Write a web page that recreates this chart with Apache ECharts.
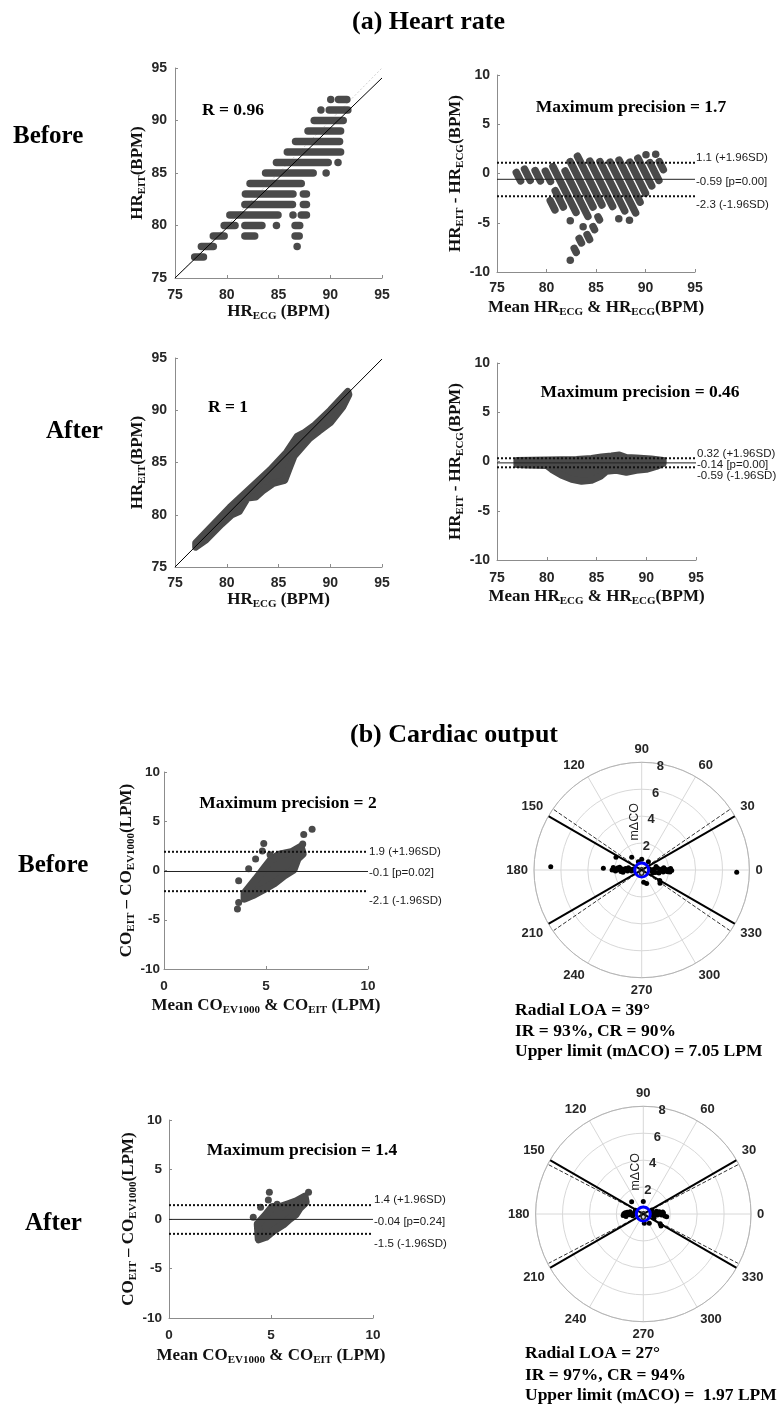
<!DOCTYPE html>
<html>
<head>
<meta charset="utf-8">
<title>Heart rate and cardiac output agreement</title>
<script src="https://cdn.jsdelivr.net/npm/echarts@6/dist/echarts.min.js"></script>
<style>
  html, body { margin: 0; padding: 0; background: #ffffff; }
  #chart { width: 780px; height: 1405px; }
</style>
</head>
<body>
<div id="chart"></div>
<script>
// ---------------------------------------------------------------------------
// Data
// ---------------------------------------------------------------------------

// Heart rate before: HR_EIT is integer-valued, so readings form horizontal runs.
// Each entry: [HR_EIT, HR_ECG first, HR_ECG last]
const hrBeforeRuns = [
  [92, 90.05, 90.05], [92, 90.8, 91.6],
  [91, 89.1, 89.1], [91, 89.9, 91.7],
  [90, 88.45, 91.25],
  [89, 87.85, 91.0],
  [88, 86.65, 90.9],
  [87, 85.85, 91.0],
  [86, 84.8, 89.8], [86, 90.75, 90.75],
  [85, 83.75, 88.35], [85, 89.6, 89.6],
  [84, 82.25, 87.2],
  [83, 81.8, 86.4], [83, 87.4, 87.7],
  [82, 81.75, 86.35], [82, 87.4, 87.7],
  [81, 80.3, 84.95], [81, 86.4, 86.4], [81, 87.2, 87.7],
  [80, 79.75, 80.8], [80, 81.75, 83.4], [80, 84.8, 84.8], [80, 86.6, 87.05],
  [79, 78.7, 79.75], [79, 81.75, 82.7], [79, 86.6, 87.0],
  [78, 77.55, 78.7], [78, 86.8, 86.8],
  [77, 76.9, 77.75]
];
const hrBeforeFit = [[75, 75], [95, 94.05]];
const hrIdentity = [[75, 75], [95, 95]];

// Bland-Altman stripes before: [mean start, diff start, mean end, diff end]
const hrBeforeBA = [
  [91.03, 1.95, 91.03, 1.95], [91.4, 1.2, 91.8, 0.4],
  [90.05, 1.9, 90.05, 1.9], [90.45, 1.1, 91.35, -0.7],
  [89.23, 1.55, 90.63, -1.25],
  [88.43, 1.15, 90.0, -2.0],
  [87.33, 1.35, 89.45, -2.9],
  [86.43, 1.15, 89.0, -4.0],
  [85.4, 1.2, 87.9, -3.8], [88.38, -4.75, 88.38, -4.75],
  [84.38, 1.25, 86.68, -3.35], [87.3, -4.6, 87.3, -4.6],
  [83.13, 1.75, 85.6, -3.2],
  [82.4, 1.2, 84.7, -3.4], [85.2, -4.4, 85.35, -4.7],
  [81.88, 0.25, 84.18, -4.35], [84.7, -5.4, 84.85, -5.7],
  [80.65, 0.7, 82.98, -3.95], [83.7, -5.4, 83.7, -5.4], [84.1, -6.2, 84.35, -6.7],
  [79.88, 0.25, 80.4, -0.8], [80.88, -1.75, 81.7, -3.4], [82.4, -4.8, 82.4, -4.8], [83.3, -6.6, 83.53, -7.05],
  [78.85, 0.3, 79.38, -0.75], [80.38, -2.75, 80.85, -3.7], [82.8, -7.6, 83.0, -8.0],
  [77.78, 0.45, 78.35, -0.7], [82.4, -8.8, 82.4, -8.8],
  [76.95, 0.1, 77.38, -0.75]
];
const hrBeforeLimits = [1.1, -0.59, -2.3];
const hrBeforeLimitText = ['1.1 (+1.96SD)', '-0.59 [p=0.00]', '-2.3 (-1.96SD)'];

// Heart rate after: outline of the dense cloud of readings (HR_ECG, HR_EIT)
const hrAfterCloud = [
  [77.0, 77.3], [80.3, 80.7], [84.2, 84.3], [85.8, 86.0], [86.8, 87.5], [87.4, 87.8],
  [88.4, 88.5], [90.0, 90.0], [91.7, 91.8],
  [91.8, 91.5], [91.2, 90.3], [90.0, 88.8], [88.9, 88.0], [88.0, 87.3], [86.5, 85.6],
  [86.1, 84.6], [85.6, 83.3], [84.5, 83.0], [83.5, 82.3], [82.8, 81.7], [82.0, 81.6],
  [81.2, 80.3], [80.5, 80.0], [79.5, 79.1], [78.0, 77.6], [77.0, 76.9]
];
const hrAfterFit = [[75, 75], [95, 94.9]];

// Bland-Altman after: outline of the cloud (mean, difference)
const hrAfterBACloud = [
  [77.0, 0.1], [80.0, 0.15], [83.0, 0.2], [84.5, 0.3], [85.5, 0.45], [86.5, 0.55],
  [87.3, 0.65], [88.0, 0.4], [89.0, 0.35], [90.5, 0.25], [91.7, 0.1],
  [91.7, -0.2], [91.0, -0.5], [90.0, -0.8], [89.0, -0.9], [88.0, -1.1], [87.0, -0.9],
  [86.0, -1.0], [85.4, -1.5], [84.5, -1.9], [83.5, -2.0], [82.5, -1.8], [81.5, -1.4],
  [80.5, -0.8], [80.0, -0.4], [78.0, -0.35], [77.0, -0.3]
];
const hrAfterLimits = [0.32, -0.14, -0.59];
const hrAfterLimitText = ['0.32 (+1.96SD)', '-0.14 [p=0.00]', '-0.59 (-1.96SD)'];

// Cardiac output before: isolated readings and the outline of the dense cluster
const coBeforeDots = [
  [7.26, 4.2], [6.85, 3.66], [4.89, 2.75], [4.82, 1.97], [4.49, 1.16], [4.15, 0.19],
  [3.66, -1.03], [3.6, -3.9], [3.66, -3.26], [6.8, 2.7], [3.95, -2.8], [5.2, 1.6]
];
const coBeforeCloud = [
  [3.95, -2.3], [4.5, -0.9], [4.95, 0.3], [5.25, 1.1], [5.65, 1.6], [6.3, 1.9], [6.7, 2.4],
  [6.8, 1.7], [6.55, 1.2], [6.35, 0.1], [5.9, -0.5], [5.4, -1.3], [4.85, -1.95],
  [4.35, -2.5], [3.95, -2.85]
];
const coBeforeLimits = [1.9, -0.1, -2.1];
const coBeforeLimitText = ['1.9 (+1.96SD)', '-0.1 [p=0.02]', '-2.1 (-1.96SD)'];

// Cardiac output after
const coAfterDots = [[4.92, 2.69], [4.87, 1.92], [4.49, 1.18], [4.13, 0.17], [6.84, 2.69], [5.3, 1.5]];
const coAfterCloud = [
  [4.35, -0.5], [4.75, 0.4], [5.05, 1.2], [5.45, 1.2], [5.85, 1.5], [6.25, 1.8], [6.65, 2.25],
  [6.7, 1.7], [6.4, 1.1], [6.2, 0.45], [5.9, 0.0], [5.6, -0.55], [5.1, -1.2],
  [4.75, -1.8], [4.4, -2.05]
];
const coAfterLimits = [1.4, -0.04, -1.5];
const coAfterLimitText = ['1.4 (+1.96SD)', '-0.04 [p=0.24]', '-1.5 (-1.96SD)'];

// Polar plots: [mean change mΔCO, angle in degrees]
const polarBeforeDots = [
  [6.76, 178], [7.06, 358.6], [2.85, 177.5], [2.13, 153.7], [1.2, 128.3], [0.79, 90],
  [0.93, 279], [1.06, 290], [1.68, 324], [1.55, 330], [0.66, 112], [0.79, 51],
  [0.6, 172], [0.75, 186], [0.9, 178], [1.05, 184], [1.2, 175], [1.3, 181], [1.45, 177],
  [1.55, 184], [1.7, 179], [1.8, 175], [1.95, 182], [2.05, 178], [2.2, 180], [1.0, 170],
  [1.4, 187], [1.65, 173], [0.8, 178], [1.15, 180], [1.85, 180], [2.12, 175],
  [0.6, 8], [0.75, 354], [0.9, 3], [1.05, 350], [1.2, 6], [1.35, 358], [1.5, 3], [1.6, 355],
  [1.75, 2], [1.85, 357], [2.0, 1], [2.1, 356], [2.23, 359], [1.1, 14], [1.3, 350],
  [1.65, 6], [0.85, 345], [1.45, 0], [1.95, 356], [2.15, 3]
];
const polarAfterDots = [
  [1.26, 133.4], [0.92, 90], [1.59, 325.8], [0.82, 302.7], [0.7, 276], [1.45, 330],
  [0.6, 170], [0.75, 185], [0.9, 176], [1.05, 183], [1.2, 174], [1.3, 188], [1.45, 179],
  [1.5, 184], [1.0, 170], [0.8, 190], [1.15, 181], [1.35, 176], [0.65, 155],
  [0.6, 10], [0.75, 352], [0.9, 4], [1.05, 356], [1.2, 8], [1.35, 357], [1.5, 3],
  [1.6, 355], [1.75, 353], [1.0, 12], [1.25, 0], [1.45, 6], [0.85, 340], [0.7, 25]
];
const polarLimitAngle = 30;            // solid limit lines
const polarBeforeLoaAngle = 34.5;      // dashed lines
const polarAfterLoaAngle = 27.5;
const polarRadiusTicks = [0, 2, 4, 6, 8];
const polarBeforeText = ['Radial LOA = 39°', 'IR = 93%, CR = 90%', 'Upper limit (mΔCO) = 7.05 LPM'];
const polarAfterText = ['Radial LOA = 27°', 'IR = 97%, CR = 94%', 'Upper limit (mΔCO) =  1.97 LPM'];

// ---------------------------------------------------------------------------
// Styling helpers
// ---------------------------------------------------------------------------
const SERIF = '"Liberation Serif", "Times New Roman", serif';
const SANS = '"Liberation Sans", Arial, sans-serif';
const DOT = '#4a4a4a';
const AXIS = '#8c8c8c';
const LABEL = '#262626';

function richName(fs) {
  return {
    t: { fontFamily: SERIF, fontWeight: 'bold', fontSize: fs, color: '#111' },
    s: { fontFamily: SERIF, fontWeight: 'bold', fontSize: Math.round(fs * 0.66), color: '#111', padding: [9, 0, 0, 0] }
  };
}

function valueAxis(grid, min, max, step, o) {
  return {
    type: 'value', gridIndex: grid, min: min, max: max, interval: step,
    axisLine: { show: true, onZero: false, lineStyle: { color: AXIS, width: 1 } },
    axisTick: { show: true, inside: true, length: 3, lineStyle: { color: AXIS } },
    splitLine: { show: false },
    axisLabel: { margin: o.margin, fontFamily: SANS, fontWeight: 'bold', fontSize: o.fs, color: LABEL },
    name: o.name, nameLocation: 'middle', nameGap: o.gap,
    nameTextStyle: { rich: richName(o.nfs || 17) }
  };
}

// A run of overlapping round markers drawn as one capsule
function capsule(width) {
  return function (params, api) {
    const a = api.coord([api.value(0), api.value(1)]);
    const b = api.coord([api.value(2), api.value(3)]);
    if (Math.abs(a[0] - b[0]) < 0.01 && Math.abs(a[1] - b[1]) < 0.01) {
      return { type: 'circle', shape: { cx: a[0], cy: a[1], r: width / 2 }, style: { fill: DOT } };
    }
    return {
      type: 'line', shape: { x1: a[0], y1: a[1], x2: b[0], y2: b[1] },
      style: { stroke: DOT, lineWidth: width, lineCap: 'round' }
    };
  };
}

function runSeries(g, data) {
  return {
    type: 'custom', xAxisIndex: g, yAxisIndex: g, data: data,
    encode: { x: [0, 2], y: [1, 3] }, renderItem: capsule(7.5), z: 2, silent: true
  };
}

// Dense cloud of markers drawn as a filled outline with rounded border
function cloudSeries(g, pts, w) {
  return {
    type: 'custom', xAxisIndex: g, yAxisIndex: g, data: pts, encode: { x: 0, y: 1 },
    z: 2, silent: true,
    renderItem: function (params, api) {
      if (params.dataIndex !== 0) return null;
      return {
        type: 'polygon', shape: { points: pts.map(function (p) { return api.coord(p); }) },
        style: { fill: DOT, stroke: DOT, lineWidth: w, lineJoin: 'round' }
      };
    }
  };
}

function dotSeries(g, data, size) {
  return {
    type: 'scatter', xAxisIndex: g, yAxisIndex: g, data: data, symbolSize: size,
    itemStyle: { color: DOT, opacity: 1 }, z: 3, silent: true
  };
}

function lineSeries(g, data, style, z) {
  return {
    type: 'line', xAxisIndex: g, yAxisIndex: g, data: data, symbol: 'none', silent: true,
    lineStyle: style, z: z, animation: false
  };
}

function limitSeries(g, x0, x1, vals) {
  return vals.map(function (v, i) {
    return lineSeries(g, [[x0, v], [x1, v]],
      i === 1 ? { color: '#222', width: 1, type: 'solid' } : { color: '#111', width: 2, type: [2, 2] }, 4);
  });
}

// ---------------------------------------------------------------------------
// Layout: six cartesian panels and two polar panels
// ---------------------------------------------------------------------------
const grids = [
  { left: 175, top: 68, width: 207, height: 210 },
  { left: 497, top: 75, width: 198, height: 197 },
  { left: 175, top: 358, width: 207, height: 209 },
  { left: 497, top: 363, width: 199, height: 197 },
  { left: 164, top: 772, width: 204, height: 197 },
  { left: 169, top: 1120, width: 204, height: 198 }
].map(function (g) { return Object.assign({ outerBoundsMode: 'none', containLabel: false }, g); });

const nHR_EIT = '{t|HR}{s|EIT}{t|(BPM)}';
const nHR_ECG = '{t|HR}{s|ECG}{t| (BPM)}';
const nHR_diff = '{t|HR}{s|EIT}{t| - HR}{s|ECG}{t|(BPM)}';
const nHR_mean = '{t|Mean HR}{s|ECG}{t| & HR}{s|ECG}{t|(BPM)}';
const nCO_diff = '{t|CO}{s|EIT}{t| – CO}{s|EV1000}{t|(LPM)}';
const nCO_mean = '{t|Mean CO}{s|EV1000}{t| & CO}{s|EIT}{t| (LPM)}';

const xAxes = [
  valueAxis(0, 75, 95, 5, { margin: 10, fs: 14, name: nHR_ECG, gap: 20 }),
  valueAxis(1, 75, 95, 5, { margin: 9, fs: 14, name: nHR_mean, gap: 26 }),
  valueAxis(2, 75, 95, 5, { margin: 9, fs: 14, name: nHR_ECG, gap: 23 }),
  valueAxis(3, 75, 95, 5, { margin: 11, fs: 14, name: nHR_mean, gap: 27 }),
  valueAxis(4, 0, 10, 5, { margin: 10, fs: 13.5, name: nCO_mean, gap: 27 }),
  valueAxis(5, 0, 10, 5, { margin: 10, fs: 13.5, name: nCO_mean, gap: 28 })
];
const yAxes = [
  valueAxis(0, 75, 95, 5, { margin: 8, fs: 14, name: nHR_EIT, gap: 27 }),
  valueAxis(1, -10, 10, 5, { margin: 7, fs: 14, name: nHR_diff, gap: 21 }),
  valueAxis(2, 75, 95, 5, { margin: 8, fs: 14, name: nHR_EIT, gap: 27 }),
  valueAxis(3, -10, 10, 5, { margin: 7, fs: 14, name: nHR_diff, gap: 21 }),
  valueAxis(4, -10, 10, 5, { margin: 4, fs: 13.5, name: nCO_diff, gap: 25 }),
  valueAxis(5, -10, 10, 5, { margin: 7, fs: 13.5, name: nCO_diff, gap: 29 })
];

const polars = [
  { center: [641.7, 870], radius: 107.7 },
  { center: [643.3, 1214], radius: 107.7 }
];
const angleAxes = [0, 1].map(function (i) {
  return {
    polarIndex: i, type: 'value', min: 0, max: 360, interval: 30, startAngle: 0, clockwise: false,
    axisLine: { show: true, lineStyle: { color: '#b4b4b4', width: 1 } },
    axisTick: { show: false },
    axisLabel: {
      show: true, margin: 6, fontFamily: SANS, fontWeight: 'bold', fontSize: 13, color: LABEL,
      formatter: function (v) { return v === 360 ? '' : String(v); }
    },
    splitLine: { show: true, lineStyle: { color: '#d8d8d8', width: 1 } }
  };
});
const radiusAxes = [0, 1].map(function (i) {
  return {
    polarIndex: i, type: 'value', min: 0, max: 8, interval: 2,
    axisLine: { show: false }, axisTick: { show: false }, axisLabel: { show: false },
    splitLine: { show: true, lineStyle: { color: '#d8d8d8', width: 1 } }
  };
});

function polarSeries(p, dots, loaAngle, namePos) {
  const L = polarLimitAngle;
  const out = [];
  const line = function (data, style, z) {
    return { type: 'line', coordinateSystem: 'polar', polarIndex: p, data: data, symbol: 'none',
      silent: true, lineStyle: style, z: z, animation: false };
  };
  out.push(line([[7.92, loaAngle], [7.92, 180 + loaAngle]], { color: '#333', width: 1, type: [4, 2] }, 2));
  out.push(line([[7.92, 180 - loaAngle], [7.92, 360 - loaAngle]], { color: '#333', width: 1, type: [4, 2] }, 2));
  out.push(line([[8, L], [8, 180 + L]], { color: '#000', width: 2 }, 2));
  out.push(line([[8, 180 - L], [8, 360 - L]], { color: '#000', width: 2 }, 2));
  out.push({ type: 'scatter', coordinateSystem: 'polar', polarIndex: p, data: dots, symbolSize: 5,
    itemStyle: { color: '#000', opacity: 1 }, z: 3, silent: true });
  out.push({ type: 'scatter', coordinateSystem: 'polar', polarIndex: p, data: [[0, 0]], symbolSize: 14,
    itemStyle: { color: 'rgba(0,0,0,0)', borderColor: '#0000ff', borderWidth: 3, opacity: 1 }, z: 4, silent: true });
  // radial tick labels along the 80° spoke
  out.push({ type: 'scatter', coordinateSystem: 'polar', polarIndex: p, symbolSize: 1,
    data: polarRadiusTicks.map(function (v) { return [v, v === 0 ? 0 : 80]; }),
    itemStyle: { color: 'rgba(0,0,0,0)', opacity: 1 }, z: 5, silent: true,
    label: { show: true, position: 'inside', offset: [0, 2.5], fontFamily: SANS, fontWeight: 'bold',
      fontSize: 13, color: LABEL, formatter: function (q) { return String(q.value[0]); } } });
  out.push({ type: 'scatter', coordinateSystem: 'polar', polarIndex: p, symbolSize: 1, data: [namePos],
    itemStyle: { color: 'rgba(0,0,0,0)', opacity: 1 }, z: 5, silent: true,
    label: { show: true, position: 'inside', rotate: 90, fontFamily: SANS, fontSize: 12.5, color: '#1e1e1e',
      formatter: 'mΔCO' } });
  return out;
}

const series = [].concat(
  // (a) heart rate, before
  lineSeries(0, hrIdentity, { color: '#cfcfcf', width: 1, type: [2, 2] }, 1),
  runSeries(0, hrBeforeRuns.map(function (r) { return [r[1], r[0], r[2], r[0]]; })),
  lineSeries(0, hrBeforeFit, { color: '#000', width: 1 }, 3),
  runSeries(1, hrBeforeBA),
  limitSeries(1, 75, 95, hrBeforeLimits),
  // (a) heart rate, after
  cloudSeries(2, hrAfterCloud, 7),
  lineSeries(2, hrAfterFit, { color: '#000', width: 1 }, 3),
  cloudSeries(3, hrAfterBACloud, 7),
  limitSeries(3, 75, 95, hrAfterLimits),
  // (b) cardiac output
  cloudSeries(4, coBeforeCloud, 8),
  dotSeries(4, coBeforeDots, 7),
  limitSeries(4, 0, 10, coBeforeLimits),
  cloudSeries(5, coAfterCloud, 8),
  dotSeries(5, coAfterDots, 7),
  limitSeries(5, 0, 10, coAfterLimits),
  polarSeries(0, polarBeforeDots, polarBeforeLoaAngle, [3.62, 99]),
  polarSeries(1, polarAfterDots, polarAfterLoaAngle, [3.19, 101])
);

const chart = echarts.init(document.getElementById('chart'), null, { renderer: 'canvas', width: 780, height: 1405 });
chart.setOption({
  backgroundColor: '#ffffff',
  animation: false,
  textStyle: { fontFamily: SANS },
  grid: grids,
  xAxis: xAxes,
  yAxis: yAxes,
  polar: polars,
  angleAxis: angleAxes,
  radiusAxis: radiusAxes,
  series: series
});

// ---------------------------------------------------------------------------
// Text annotations
// ---------------------------------------------------------------------------
const graphics = [];
function addText(x, y, text, font, align, color) {
  graphics.push({
    type: 'text', x: x, y: y, silent: true, z: 100,
    style: {
      text: text, font: font, fill: color || '#000',
      align: align || 'left', verticalAlign: 'middle',
      textAlign: align || 'left', textVerticalAlign: 'middle'
    }
  });
}
const HEAD = 'bold 26px ' + SERIF;
const ROW = 'bold 25px ' + SERIF;
const NOTE = 'bold 17.5px ' + SERIF;
const LOA = '11.5px ' + SANS;

addText(352, 22, '(a) Heart rate', HEAD);
addText(350, 735, '(b) Cardiac output', HEAD);
addText(13, 137, 'Before', ROW);
addText(46, 432, 'After', ROW);
addText(18, 866, 'Before', ROW);
addText(25, 1224, 'After', ROW);

addText(233, 110, 'R = 0.96', NOTE, 'center');
addText(228, 407, 'R = 1', NOTE, 'center');
addText(631, 107, 'Maximum precision = 1.7', NOTE, 'center');
addText(640, 392, 'Maximum precision = 0.46', NOTE, 'center');
addText(288, 803, 'Maximum precision = 2', NOTE, 'center');
addText(302, 1150, 'Maximum precision = 1.4', NOTE, 'center');

// limit-of-agreement labels placed next to the right end of each line
function limitLabels(g, xEnd, vals, texts, dys) {
  vals.forEach(function (v, i) {
    const p = chart.convertToPixel({ gridIndex: g }, [xEnd, v]);
    addText(p[0] + 1, p[1] + dys[i], texts[i], LOA, 'left', '#1a1a1a');
  });
}
limitLabels(1, 95, hrBeforeLimits, hrBeforeLimitText, [-5, 3, 9]);
limitLabels(3, 95, hrAfterLimits, hrAfterLimitText, [-5, 2, 9]);
limitLabels(4, 10, coBeforeLimits, coBeforeLimitText, [0, 1, 10]);
limitLabels(5, 10, coAfterLimits, coAfterLimitText, [-5, 2, 10]);

polarBeforeText.forEach(function (t, i) { addText(515, [1010, 1031.7, 1051.7][i], t, NOTE); });
polarAfterText.forEach(function (t, i) { addText(525, [1353, 1375, 1395][i], t, NOTE); });

chart.setOption({ graphic: graphics });
</script>
</body>
</html>
